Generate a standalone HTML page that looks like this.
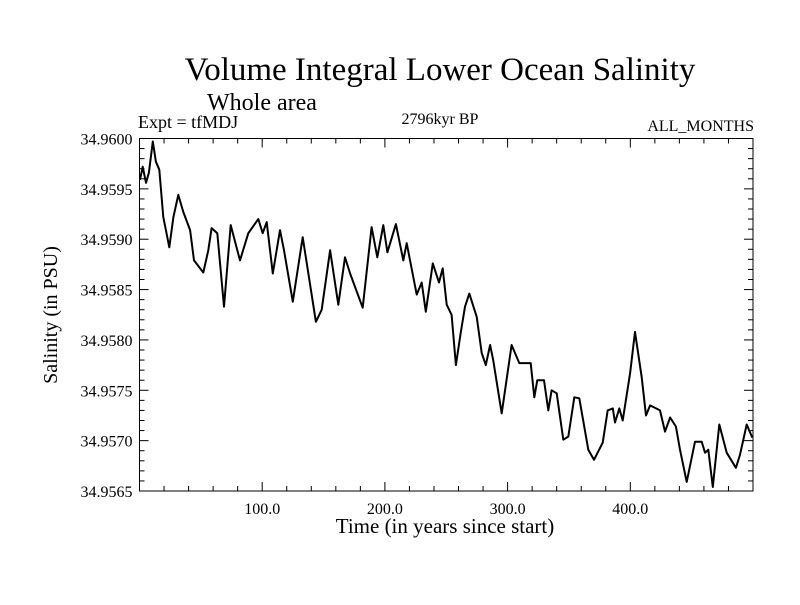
<!DOCTYPE html>
<html><head><meta charset="utf-8"><style>
body{margin:0;background:#fff;}
svg text{font-family:"Liberation Serif",serif;fill:#000;}
</style></head><body>
<svg id="c" width="800" height="600" xmlns="http://www.w3.org/2000/svg">
<text x="440" y="80" font-size="33" text-anchor="middle">Volume Integral Lower Ocean Salinity</text>
<text x="207" y="110" font-size="24">Whole area</text>
<text x="138" y="128" font-size="18">Expt = tfMDJ</text>
<text x="440" y="124" font-size="16" text-anchor="middle">2796kyr BP</text>
<text x="754" y="131" font-size="16" text-anchor="end">ALL_MONTHS</text>
<text x="445" y="533" font-size="21" text-anchor="middle">Time (in years since start)</text>
<text transform="translate(57,315) rotate(-90)" font-size="20" text-anchor="middle">Salinity (in PSU)</text>
<g id="axes"></g>
<path id="line" fill="none" stroke="#000" stroke-width="2" stroke-linejoin="round"/>
<rect x="139.5" y="138.5" width="613.5" height="352.5" fill="none" stroke="#000" stroke-width="1"/>
</svg>
<script>
const years=[0.4,2.6,5.3,7.7,10.8,13.4,16.1,19.4,24.3,27.6,31.6,35.7,41.2,44.4,52.0,56.1,58.8,63.4,68.9,74.3,81.9,85.2,88.7,96.8,100.4,103.7,108.6,114.5,117.8,124.9,133.0,143.8,148.5,155.3,162.0,167.5,171.6,181.9,189.2,193.8,198.7,202.0,209.0,215.0,217.8,225.9,230.0,233.3,239.0,244.1,247.1,250.4,254.4,257.9,261.8,265.3,268.8,274.8,278.9,282.2,285.7,288.3,295.2,303.3,309.5,318.8,321.8,324.2,329.7,333.2,335.9,340.0,345.4,349.5,354.4,358.4,365.8,370.4,377.5,381.6,385.7,387.5,391.0,393.8,399.8,403.8,409.3,412.8,416.1,424.2,428.3,432.4,437.2,440.5,446.0,452.7,458.2,460.9,463.6,467.2,472.5,478.6,486.1,489.4,494.9,499.4];
const salinity=[34.95959,34.95972,34.95956,34.95966,34.95997,34.95977,34.95969,34.95922,34.95892,34.95922,34.95944,34.95927,34.95909,34.95879,34.95867,34.95889,34.95911,34.95906,34.95833,34.95914,34.95879,34.95892,34.95906,34.95920,34.95906,34.95917,34.95866,34.95909,34.95889,34.95838,34.95902,34.95818,34.95830,34.95889,34.95835,34.95882,34.95866,34.95832,34.95912,34.95882,34.95914,34.95887,34.95915,34.95879,34.95896,34.95845,34.95857,34.95828,34.95876,34.95857,34.95871,34.95835,34.95825,34.95775,34.95807,34.95833,34.95846,34.95823,34.95787,34.95775,34.95795,34.95780,34.95727,34.95795,34.95777,34.95777,34.95743,34.95760,34.95760,34.95730,34.95750,34.95747,34.95701,34.95704,34.95743,34.95742,34.95691,34.95681,34.95698,34.95730,34.95732,34.95718,34.95732,34.95720,34.95767,34.95808,34.95763,34.95725,34.95735,34.95730,34.95709,34.95723,34.95714,34.95691,34.95659,34.95699,34.95699,34.95688,34.95691,34.95654,34.95716,34.95688,34.95673,34.95686,34.95716,34.95703];
const xTickVals=[100,200,300,400];
const xTickLabels=["100.0","200.0","300.0","400.0"];
const yTickVals=[34.9565,34.9570,34.9575,34.9580,34.9585,34.9590,34.9595,34.9600];
const yTickLabels=["34.9565","34.9570","34.9575","34.9580","34.9585","34.9590","34.9595","34.9600"];
const L=139.5,R=753,T=138.5,B=491,X0=0,X1=500,Y0=34.9565,Y1=34.96;
const sx=v=>L+(v-X0)/(X1-X0)*(R-L);
const sy=v=>B-(v-Y0)/(Y1-Y0)*(B-T);
const NS="http://www.w3.org/2000/svg";
const ax=document.getElementById('axes');
function ln(x1,y1,x2,y2){const l=document.createElementNS(NS,'line');l.setAttribute('x1',x1);l.setAttribute('y1',y1);l.setAttribute('x2',x2);l.setAttribute('y2',y2);l.setAttribute('stroke','#000');l.setAttribute('stroke-width','1');


ax.appendChild(l);}
function tx(x,y,s,anchor,name){const t=document.createElementNS(NS,'text');t.setAttribute('x',x);t.setAttribute('y',y);t.setAttribute('font-size','16');t.setAttribute('text-anchor',anchor);t.textContent=s;


ax.appendChild(t);}
for(let v=20;v<X1;v+=20){const x=sx(v);const major=v%100===0;const len=major?9:5;ln(x,B,x,B-len);ln(x,T,x,T+len);}
for(let i=1;i<35;i++){const v=Y0+i*0.0001;const y=sy(v);const major=i%5===0;const len=major?9:5;ln(L,y,L+len,y);ln(R,y,R-len,y);}
xTickVals.forEach((v,i)=>tx(sx(v),B+23,xTickLabels[i],'middle','x-tick-label'));
yTickVals.forEach((v,i)=>tx(L-7,sy(v)+6,yTickLabels[i],'end','y-tick-label'));
document.getElementById('line').setAttribute('d',years.map((y,i)=>(i?'L':'M')+sx(y).toFixed(1)+','+sy(salinity[i]).toFixed(1)).join(''));
</script>
</body></html>
